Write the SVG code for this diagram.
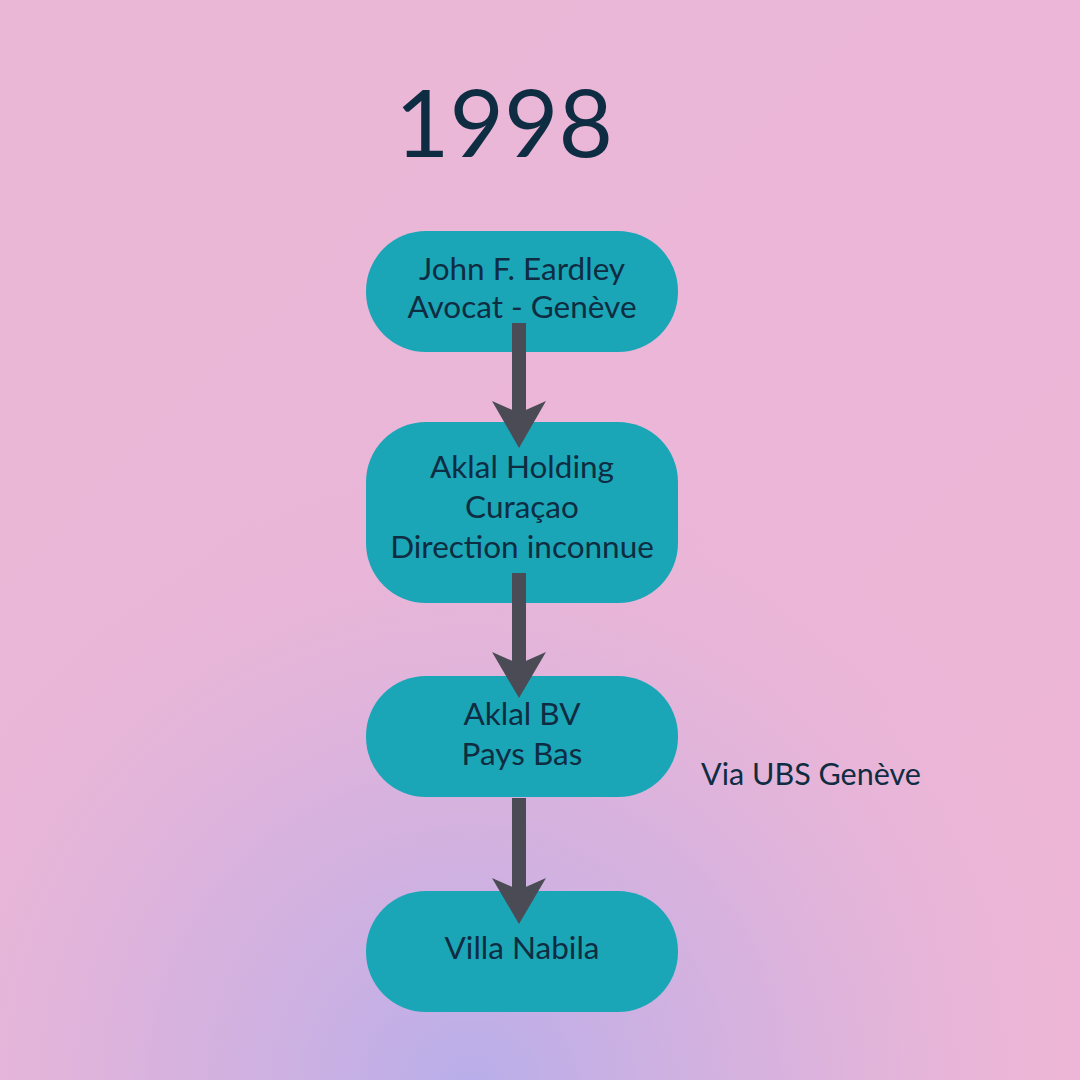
<svg xmlns="http://www.w3.org/2000/svg" width="1080" height="1080" viewBox="0 0 1080 1080">
<style>
.node rect{fill:#1ba6b7}
.node text,.lbl{font-family:Lato,"Source Sans Pro","Open Sans",sans-serif;font-size:31.5px;fill:#0f2d42;text-anchor:middle}
.lbl{font-size:30.5px}
.shaft{stroke:#4a4b54;stroke-width:14;fill:none}
.head{fill:#4a4b54}
</style>
<defs>
<linearGradient id="bg" x1="0" y1="0" x2="1" y2="1">
<stop offset="0" stop-color="#eab8d6"/>
<stop offset="0.5" stop-color="#ebb6d8"/>
<stop offset="1" stop-color="#eeb6d6"/>
</linearGradient>
<radialGradient id="lav" cx="470" cy="1090" r="640" gradientUnits="userSpaceOnUse">
<stop offset="0" stop-color="#b8aeea"/>
<stop offset="0.5" stop-color="#ccb0e2" stop-opacity="0.6"/>
<stop offset="1" stop-color="#e6b5d8" stop-opacity="0"/>
</radialGradient>
</defs>
<rect width="1080" height="1080" fill="url(#bg)"/>
<rect width="1080" height="1080" fill="url(#lav)"/>
<text x="504" y="157" style="font-family:Lato,'Open Sans',sans-serif;font-size:94px;fill:#0f2d42;text-anchor:middle">1998</text>
<g id="n1" class="node"><rect x="366" y="231" width="312" height="121" rx="60"/><text x="522" y="280">John F. Eardley</text><text x="522" y="318">Avocat - Genève</text></g>
<g id="n2" class="node"><rect x="366" y="422" width="312" height="181" rx="60"/><text x="522" y="478">Aklal Holding</text><text x="522" y="518">Curaçao</text><text x="522" y="558">Direction inconnue</text></g>
<g id="n3" class="node"><rect x="366" y="676" width="312" height="121" rx="60"/><text x="522" y="725">Aklal BV</text><text x="522" y="765">Pays Bas</text></g>
<g id="n4" class="node"><rect x="366" y="891" width="312" height="121" rx="60"/><text x="522" y="959">Villa Nabila</text></g>
<g id="connectors">
<line class="shaft" x1="519" y1="323" x2="519" y2="415"/>
<path class="head" d="M492,401 L519,448 L546,401 L519,413 Z"/>
<line class="shaft" x1="519" y1="573" x2="519" y2="665"/>
<path class="head" d="M492,652 L519,698 L546,652 L519,664 Z"/>
<line class="shaft" x1="519" y1="798" x2="519" y2="890"/>
<path class="head" d="M492,878 L519,924 L546,878 L519,890 Z"/>
</g>
<text class="lbl" x="811" y="785">Via UBS Genève</text>
</svg>
